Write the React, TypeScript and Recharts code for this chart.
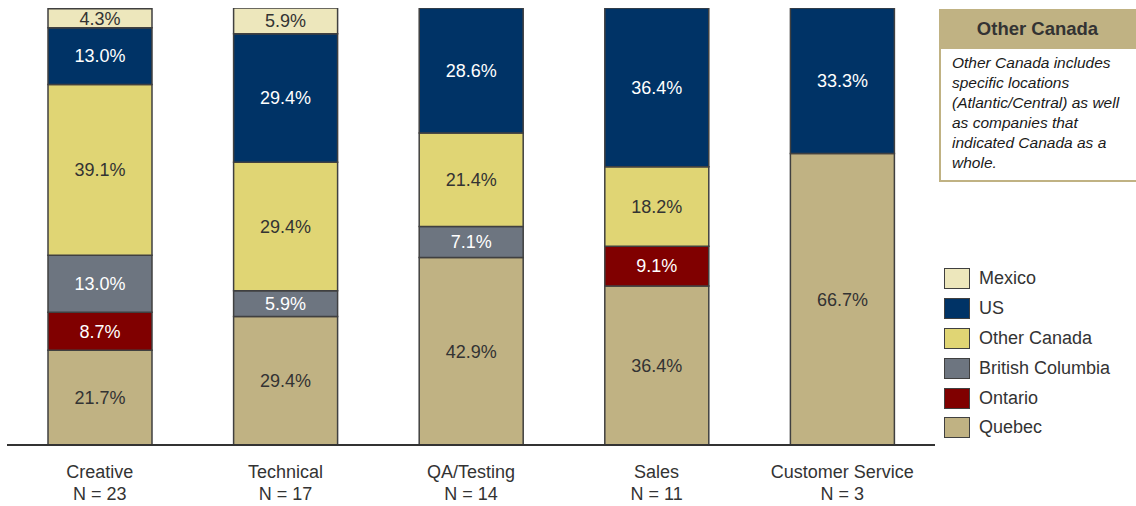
import React from 'react';
import { BarChart, Bar, XAxis, YAxis, LabelList } from 'recharts';

const categories = ['Creative', 'Technical', 'QA/Testing', 'Sales', 'Customer Service'];
const counts = [23, 17, 14, 11, 3];
const quebec = [21.7, 29.4, 42.9, 36.4, 66.7];
const ontario = [8.7, 0, 0, 9.1, 0];
const britishColumbia = [13.0, 5.9, 7.1, 0, 0];
const otherCanada = [39.1, 29.4, 21.4, 18.2, 0];
const us = [13.0, 29.4, 28.6, 36.4, 33.3];
const mexico = [4.3, 5.9, 0, 0, 0];

const series = [
  { key: 'quebec', name: 'Quebec', values: quebec, color: '#C0B283', text: '#333333' },
  { key: 'ontario', name: 'Ontario', values: ontario, color: '#800000', text: '#FFFFFF' },
  { key: 'bc', name: 'British Columbia', values: britishColumbia, color: '#6D7580', text: '#FFFFFF' },
  { key: 'other', name: 'Other Canada', values: otherCanada, color: '#E0D574', text: '#333333' },
  { key: 'us', name: 'US', values: us, color: '#003366', text: '#FFFFFF' },
  { key: 'mexico', name: 'Mexico', values: mexico, color: '#EDE7BC', text: '#333333' },
];

const data = categories.map((c, i) => {
  const row: any = { category: c, n: counts[i] };
  series.forEach((s) => { row[s.key] = s.values[i]; });
  return row;
});

const FONT = '"Liberation Sans", Arial, Helvetica, sans-serif';

const Tick = (props: any) => {
  const { x, y, payload, index } = props;
  return (
    <text x={x} y={y} textAnchor="middle" fill="#333333" fontSize={18} fontFamily={FONT}>
      <tspan x={x} dy={31}>{payload.value}</tspan>
      <tspan x={x} dy={22}>{`N = ${counts[index]}`}</tspan>
    </text>
  );
};

export default function App() {
  return (
    <div style={{ position: 'fixed', left: 0, top: 0, width: 1136, height: 506, background: '#fff', fontFamily: FONT }}>
      <BarChart
        width={1136}
        height={506}
        data={data}
        margin={{ top: 8, right: 201, bottom: 0, left: 7 }}
        barSize={104}
      >
        <YAxis hide domain={[0, 100]} allowDataOverflow />
        <XAxis
          dataKey="category"
          height={61}
          axisLine={{ stroke: '#333333', strokeWidth: 2 }}
          tickLine={false}
          tickSize={0}
          interval={0}
          tick={<Tick />}
        />
        {series.map((s) => (
          <Bar
            key={s.key}
            dataKey={s.key}
            name={s.name}
            stackId="a"
            fill={s.color}
            stroke="#404040"
            strokeWidth={1.5}
            isAnimationActive={false}
          >
            <LabelList
              dataKey={s.key}
              position="center"
              fill={s.text}
              fontSize={18}
              fontFamily={FONT}
              formatter={(v: any) => (v ? `${Number(v).toFixed(1)}%` : '')}
            />
          </Bar>
        ))}
      </BarChart>
      <div style={{ position: 'absolute', left: 944, top: 264, fontSize: 18, color: '#333333' }}>
        {[...series].reverse().map((s) => (
          <div key={s.key} style={{ display: 'flex', alignItems: 'center', height: 29.8 }}>
            <div style={{ width: 24, height: 19, background: s.color, border: '1.5px solid #404040', marginRight: 9 }} />
            <span>{s.name}</span>
          </div>
        ))}
      </div>
      <div style={{ position: 'absolute', left: 939, top: 9, width: 197 }}>
        <div style={{ background: '#C0B283', height: 40, display: 'flex', alignItems: 'center', justifyContent: 'center', fontWeight: 'bold', fontSize: 18.5, color: '#333333' }}>
          Other Canada
        </div>
        <div style={{ borderLeft: '2px solid #C0B283', borderBottom: '2px solid #C0B283', padding: '4px 4px 5px 11px', fontStyle: 'italic', fontSize: 15.5, lineHeight: '20px', color: '#1a1a1a', height: 122, boxSizing: 'content-box' }}>
          Other Canada includes specific locations (Atlantic/Central) as well as companies that indicated Canada as a whole.
        </div>
      </div>
    </div>
  );
}
